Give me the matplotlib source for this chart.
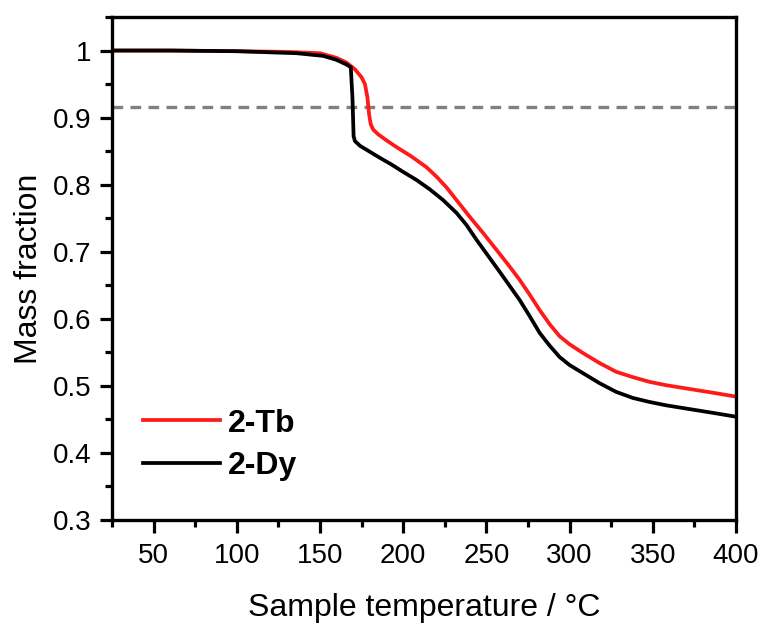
import matplotlib
matplotlib.use("Agg")
import matplotlib.pyplot as plt
from matplotlib.ticker import MultipleLocator, FuncFormatter

plt.rcParams['font.family'] = ['Liberation Sans', 'DejaVu Sans']

tb_T = [25, 60, 100, 130, 150, 160, 166, 171, 175, 177, 178.5, 179.5, 180.5, 182, 185,
        190, 196, 205, 214, 220, 226, 233, 240, 248, 256, 263, 270, 276, 282, 288, 294,
        300, 308, 318, 328, 338, 348, 358, 368, 378, 388, 400]
tb_m = [1.000, 1.000, 0.999, 0.998, 0.996, 0.989, 0.982, 0.972, 0.960, 0.950, 0.930, 0.905, 0.890, 0.882, 0.875,
        0.866, 0.856, 0.842, 0.826, 0.812, 0.796, 0.774, 0.752, 0.728, 0.703, 0.681, 0.658, 0.636, 0.613, 0.592, 0.574,
        0.562, 0.549, 0.534, 0.521, 0.513, 0.506, 0.501, 0.497, 0.493, 0.489, 0.484]

dy_T = [25, 60, 100, 136, 152, 160, 166, 168.5, 169.5, 170.2, 171, 174, 180, 186, 193, 200,
        208, 216, 224, 232, 238, 244, 251, 258, 264, 270, 276, 282, 288, 294, 300, 308,
        318, 328, 338, 348, 358, 368, 378, 388, 400]
dy_m = [1.000, 1.000, 0.999, 0.996, 0.992, 0.986, 0.979, 0.975, 0.930, 0.872, 0.865, 0.858, 0.849, 0.840, 0.830, 0.819,
        0.807, 0.793, 0.777, 0.758, 0.740, 0.718, 0.694, 0.670, 0.649, 0.628, 0.604, 0.579, 0.560, 0.543, 0.531, 0.519,
        0.504, 0.491, 0.482, 0.476, 0.471, 0.467, 0.463, 0.459, 0.454]

threshold = 0.916

fig = plt.figure(figsize=(7.64, 6.27), dpi=100)
ax = fig.add_axes([112/764, 1-520/627, (736-112)/764, (520-17)/627])

ax.axhline(threshold, color='#808080', lw=2.4, dashes=(3.2, 2.2))
ax.plot(tb_T, tb_m, color='#ff1a1a', lw=2.7, label='2-Tb')
ax.plot(dy_T, dy_m, color='black', lw=2.7, label='2-Dy')

ax.set_xlim(25, 400)
ax.set_ylim(0.3, 1.05)
ax.xaxis.set_major_locator(MultipleLocator(50))
ax.xaxis.set_minor_locator(MultipleLocator(25))
ax.yaxis.set_major_locator(MultipleLocator(0.1))
ax.yaxis.set_minor_locator(MultipleLocator(0.05))
ax.yaxis.set_major_formatter(FuncFormatter(lambda v, p: ('%g' % round(v, 2))))
ax.xaxis.set_major_formatter(FuncFormatter(lambda v, p: '' if v < 50 else '%d' % v))

for s in ax.spines.values():
    s.set_linewidth(2.4)
ax.tick_params(axis='x', which='major', direction='out', length=9.5, width=2.3, labelsize=20, pad=7)
ax.tick_params(axis='y', which='major', direction='out', length=9, width=2.3, labelsize=20, pad=6)
ax.tick_params(which='minor', direction='out', length=5, width=2.3)
ax.tick_params(top=False, right=False, which='both')

ax.set_xlabel('Sample temperature / °C', fontsize=23, labelpad=17)
ax.set_ylabel('Mass fraction', fontsize=23, labelpad=6)

leg = ax.legend(loc='upper left', bbox_to_anchor=(0.03, 0.247), frameon=False,
                prop={'weight': 'bold', 'size': 23}, handlelength=2.4,
                handletextpad=0.25, labelspacing=0.4, borderaxespad=0)

fig.savefig('out.png', dpi=100)
